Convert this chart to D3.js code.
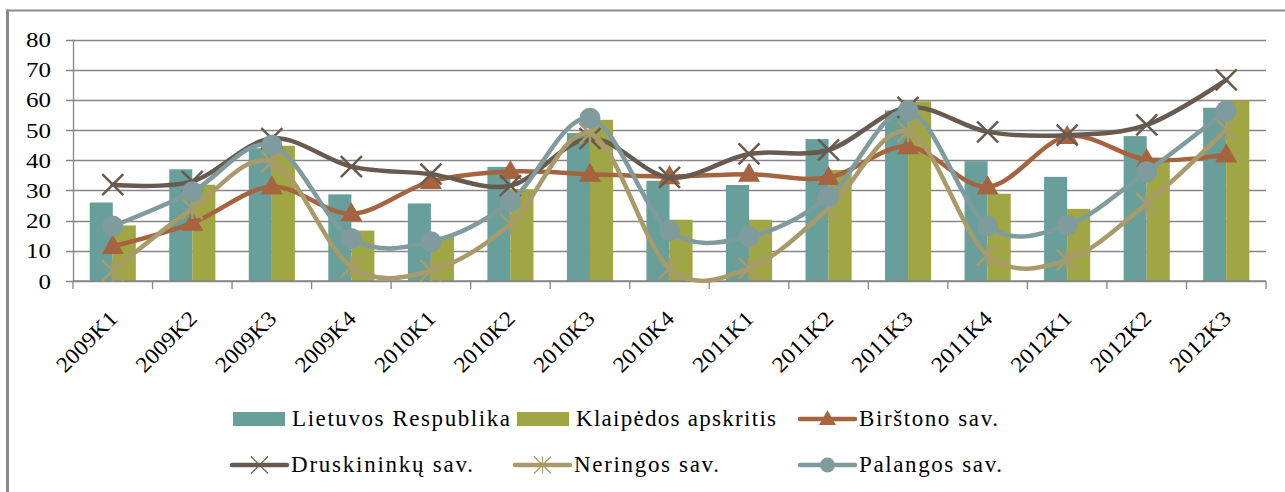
<!DOCTYPE html>
<html>
<head>
<meta charset="utf-8">
<script src="https://cdn.jsdelivr.net/npm/d3@7"></script>
</head>
<body style="margin:0">
<svg id="Vis" width="1285" height="492" font-family="Liberation Serif"></svg>
<script>
// categories and values
var quarters = ["2009K1","2009K2","2009K3","2009K4","2010K1","2010K2","2010K3","2010K4",
                "2011K1","2011K2","2011K3","2011K4","2012K1","2012K2","2012K3"];
var lietuva   = [26, 37, 44, 28.7, 25.7, 37.8, 49, 33.2, 31.8, 47, 56.5, 39.7, 34.5, 48, 57.4];
var klaipeda  = [18.4, 31.9, 44.8, 16.7, 14.8, 30.4, 53.4, 20.3, 20.3, 36.8, 59.5, 28.9, 23.9, 40.9, 59.8];
var birstonas = [11.5, 19.2, 31.2, 22.3, 33, 36.3, 35.4, 34.6, 35.4, 34.3, 44.5, 31.2, 47.9, 40.2, 41.8];
var druskin   = [31.9, 33, 47.2, 37.9, 35.4, 31.6, 47.2, 34.3, 42.1, 43.4, 57.5, 49.4, 48.3, 51.7, 66.6];
var neringa   = [3.4, 24, 39.5, 4.7, 3.4, 18.9, 48.9, 4.2, 4.2, 24, 49.5, 8.6, 7, 25.7, 50.2];
var palanga   = [18.2, 29.6, 45, 14.1, 13, 26.3, 53.9, 16.7, 14.7, 27.9, 56.4, 18.2, 18.5, 36.2, 56.4];
var yTicks = [0, 10, 20, 30, 40, 50, 60, 70, 80];

var barSeries = [
  {name: "Lietuvos Respublika", values: lietuva,  color: "#689F9A"},
  {name: "Klaipėdos apskritis", values: klaipeda, color: "#A0A643"}
];
var lineSeries = [
  {name: "Birštono sav.",     values: birstonas, color: "#A5643F", marker: "triangle"},
  {name: "Druskininkų sav.",  values: druskin,   color: "#675B4F", marker: "x"},
  {name: "Neringos sav.",     values: neringa,   color: "#A89B69", marker: "star"},
  {name: "Palangos sav.",     values: palanga,   color: "#809B9E", marker: "circle"}
];

var fontFam = "Liberation Serif";
var svg = d3.select("#Vis");
var axisColor = "#868686";
var plotLeft = 73, plotRight = 1266, plotTop = 39.5, plotBottom = 281;

// frame of the chart area (only top and left edge are visible)
svg.append("line").attr("x1", 7).attr("x2", 1285).attr("y1", 10.5).attr("y2", 10.5)
   .attr("stroke", "#8a8a8a").attr("stroke-width", 2);
svg.append("line").attr("x1", 7.5).attr("x2", 7.5).attr("y1", 9.5).attr("y2", 492)
   .attr("stroke", "#8a8a8a").attr("stroke-width", 3);

var x0 = d3.scaleBand().domain(quarters).range([plotLeft, plotRight]).padding(0);
var x1 = d3.scaleBand().domain([0, 1]).range([x0.step() * 0.21, x0.step() * 0.79]).padding(0);
var y = d3.scaleLinear().domain([0, 80]).range([plotBottom, plotTop]);
var cx = function(i){ return x0(quarters[i]) + x0.bandwidth() / 2; };

// gridlines with small tick marks left of the axis
svg.append("g").selectAll("line").data(yTicks).enter().append("line")
   .attr("x1", plotLeft - 7).attr("x2", plotRight)
   .attr("y1", function(d){ return Math.round(y(d)) + 0.5; })
   .attr("y2", function(d){ return Math.round(y(d)) + 0.5; })
   .attr("stroke", axisColor).attr("stroke-width", 1.3);
svg.append("g").selectAll("text").data(yTicks).enter().append("text")
   .attr("x", 51).attr("y", function(d){ return y(d) + 7.5; })
   .attr("text-anchor", "end")
   .attr("font-family", fontFam).attr("font-size", 22)
   .attr("textLength", function(d){ return String(d).length * 12.5; })
   .attr("lengthAdjust", "spacingAndGlyphs")
   .text(function(d){ return d; });
svg.append("line").attr("x1", plotLeft + 0.5).attr("x2", plotLeft + 0.5).attr("y1", plotTop).attr("y2", plotBottom)
   .attr("stroke", axisColor).attr("stroke-width", 1.3);

// x axis: tick marks between categories
var bounds = quarters.map(function(q){ return x0(q); }).concat([plotRight]);
svg.append("g").selectAll("line").data(bounds).enter().append("line")
   .attr("x1", function(d){ return d; }).attr("x2", function(d){ return d; })
   .attr("y1", plotBottom).attr("y2", plotBottom + 8)
   .attr("stroke", axisColor).attr("stroke-width", 1.3);

// bars
var gBars = svg.append("g");
barSeries.forEach(function(s, k){
  gBars.selectAll("rect.s" + k).data(s.values).enter().append("rect")
    .attr("class", "s" + k)
    .attr("x", function(d, i){ return x0(quarters[i]) + x1(k); })
    .attr("width", x1.bandwidth())
    .attr("y", function(d){ return y(d); })
    .attr("height", function(d){ return y(0) - y(d); })
    .attr("fill", s.color);
});

// x axis line on top of bars
svg.append("line").attr("x1", plotLeft).attr("x2", plotRight).attr("y1", plotBottom).attr("y2", plotBottom)
   .attr("stroke", axisColor).attr("stroke-width", 1.3);

svg.append("g").selectAll("text").data(quarters).enter().append("text")
   .attr("transform", function(d, i){ return "translate(" + (cx(i) + 6) + ",320) rotate(-45)"; })
   .attr("text-anchor", "end")
   .attr("font-family", fontFam)
   .attr("font-size", 22)
   .attr("textLength", 76).attr("lengthAdjust", "spacingAndGlyphs")
   .text(function(d){ return d; });

function drawMarker(g, type, color, x, yv, size, sw){
  if(type == "triangle"){
    var h = size * 0.87;
    g.append("path")
     .attr("d", "M" + x + "," + (yv - h * 0.6) + "L" + (x + size / 2) + "," + (yv + h * 0.4) + "L" + (x - size / 2) + "," + (yv + h * 0.4) + "Z")
     .attr("fill", color);
  }
  else if(type == "circle"){
    g.append("circle").attr("cx", x).attr("cy", yv).attr("r", size / 2).attr("fill", color);
  }
  else if(type == "x"){
    var r = size / 2;
    g.append("path")
     .attr("d", "M" + (x - r) + "," + (yv - r) + "L" + (x + r) + "," + (yv + r) + "M" + (x - r) + "," + (yv + r) + "L" + (x + r) + "," + (yv - r))
     .attr("stroke", color).attr("stroke-width", sw).attr("fill", "none");
  }
  else if(type == "star"){
    var r2 = size / 2;
    g.append("path")
     .attr("d", "M" + (x - r2) + "," + (yv - r2) + "L" + (x + r2) + "," + (yv + r2) + "M" + (x - r2) + "," + (yv + r2) + "L" + (x + r2) + "," + (yv - r2) +
                "M" + x + "," + (yv - r2) + "L" + x + "," + (yv + r2))
     .attr("stroke", color).attr("stroke-width", sw).attr("fill", "none");
  }
}

// smoothed lines with markers, like Excel's smoothed line
var lineGen = d3.line()
  .x(function(d, i){ return cx(i); })
  .y(function(d){ return y(d); })
  .curve(d3.curveCatmullRom.alpha(0));

lineSeries.forEach(function(s){
  var g = svg.append("g");
  g.append("path").datum(s.values).attr("d", lineGen)
   .attr("fill", "none").attr("stroke", s.color).attr("stroke-width", 4.5)
   .attr("stroke-linecap", "round");
  s.values.forEach(function(v, i){
    var size = s.marker == "triangle" ? 22 : 21;
    drawMarker(g, s.marker, s.color, cx(i), y(v), size, 2.5);
  });
});

// legend (two rows, three columns)
var legendItems = [
  {s: barSeries[0], kind: "bar", x: 233, y: 419, w: 218},
  {s: barSeries[1], kind: "bar", x: 517, y: 419, w: 200},
  {s: lineSeries[0], kind: "line", x: 800, y: 419, w: 139},
  {s: lineSeries[1], kind: "line", x: 232, y: 465, w: 182},
  {s: lineSeries[2], kind: "line", x: 515, y: 465, w: 145},
  {s: lineSeries[3], kind: "line", x: 800, y: 465, w: 143}
];
var gLeg = svg.append("g");
legendItems.forEach(function(it){
  var g = gLeg.append("g");
  if(it.kind == "bar"){
    g.append("rect").attr("x", it.x).attr("y", it.y - 7).attr("width", 52).attr("height", 14).attr("fill", it.s.color);
  } else {
    g.append("line").attr("x1", it.x).attr("x2", it.x + 55).attr("y1", it.y).attr("y2", it.y)
     .attr("stroke", it.s.color).attr("stroke-width", 4.5).attr("stroke-linecap", "round");
    drawMarker(g, it.s.marker, it.s.color, it.x + 27.5, it.y, it.s.marker == "circle" ? 15 : 17, 1.2);
  }
  g.append("text").attr("x", it.x + 59).attr("y", it.y + 7)
   .attr("font-family", fontFam)
   .attr("font-size", 23)
   .attr("textLength", it.w).attr("lengthAdjust", "spacing")
   .text(it.s.name);
});
</script>
</body>
</html>
